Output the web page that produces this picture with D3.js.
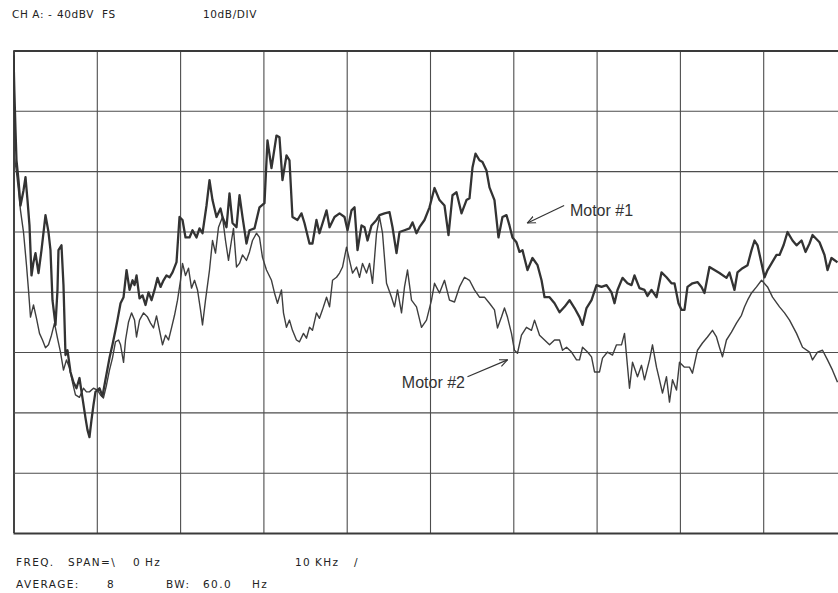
<!DOCTYPE html>
<html>
<head>
<meta charset="utf-8">
<script src="https://cdn.jsdelivr.net/npm/d3@7.9.0/dist/d3.min.js"></script>
<style>
  html, body { margin: 0; padding: 0; background: #fff; }
  svg { display: block; }
  .grid line { stroke: #4d4d4d; stroke-width: 1.1; }
  .grid line.edge { stroke: #3a3a3a; stroke-width: 1.9; }
  .plotter { font-family: "DejaVu Sans", sans-serif; font-size: 10.5px; letter-spacing: 1.4px; fill: #222; }
  .plotter.head { letter-spacing: 0.6px; }
  .note { font-family: "Liberation Sans", Arial, sans-serif; font-size: 16px; fill: #333; }
</style>
</head>
<body>
<div id="chart"></div>
<script>
// spectrum traces, [frequency kHz, level dBV]
const motor1 = [
  [0, -40.8], [0.1, -46.6], [0.24, -53.2], [0.36, -58.2], [0.6, -61.5], [0.84, -65.7], [1.2, -63.2], [1.44, -61.0],
  [1.68, -64.8], [1.92, -69.0], [2.16, -77.3], [2.4, -75.1], [2.64, -73.6], [3.0, -76.9], [3.36, -73.1], [3.84, -67.3],
  [4.2, -70.1], [4.44, -73.1], [4.68, -81.4], [5.04, -85.5], [5.28, -79.7], [5.4, -73.1], [5.76, -72.3], [6.0, -78.9],
  [6.24, -90.5], [6.48, -89.7], [6.84, -93.3], [7.2, -95.0], [7.56, -96.0], [7.92, -94.3], [8.28, -97.6], [8.64, -100.9],
  [8.88, -102.9], [9.12, -104.1], [9.36, -101.3], [9.6, -98.8], [9.84, -96.6], [10.32, -96.0], [10.68, -97.3], [11.04, -94.6],
  [11.52, -91.0], [11.88, -88.8], [12.24, -86.4], [12.48, -84.7], [12.85, -81.9], [13.21, -80.9], [13.57, -76.4], [13.93, -79.7],
  [14.29, -78.1], [14.53, -78.9], [14.77, -77.3], [15.13, -81.1], [15.49, -80.6], [15.85, -82.2], [16.21, -80.1], [16.57, -81.4],
  [16.93, -79.7], [17.29, -77.7], [17.65, -79.2], [18.01, -78.1], [18.37, -77.3], [18.73, -77.6], [19.09, -76.8], [19.57, -75.1],
  [19.93, -67.6], [20.29, -68.1], [20.65, -71.0], [21.13, -71.0], [21.49, -69.8], [21.97, -71.0], [22.33, -69.5], [22.69, -70.3],
  [23.17, -65.7], [23.53, -61.5], [23.89, -64.8], [24.37, -67.6], [24.85, -66.2], [25.09, -67.6], [25.57, -69.3], [25.93, -63.7],
  [26.29, -68.6], [26.77, -69.3], [27.13, -64.0], [27.49, -67.6], [27.97, -72.0], [28.33, -69.8], [28.93, -69.5], [29.53, -66.0],
  [30.13, -65.3], [30.49, -54.9], [30.97, -59.5], [31.57, -54.1], [31.93, -54.4], [32.29, -61.5], [32.77, -57.4], [33.13, -58.2],
  [33.49, -67.6], [34.09, -68.1], [34.57, -67.0], [34.93, -68.6], [35.53, -72.0], [35.89, -72.0], [36.37, -68.1], [36.73, -70.3],
  [37.58, -66.5], [37.94, -69.3], [38.54, -67.6], [39.14, -67.0], [39.74, -67.6], [40.1, -69.8], [40.58, -66.5], [40.94, -66.0],
  [41.3, -73.1], [41.78, -69.0], [42.14, -69.3], [42.5, -71.5], [42.98, -69.0], [43.58, -68.1], [43.94, -67.3], [44.54, -67.0],
  [45.14, -66.8], [45.5, -69.3], [45.98, -73.6], [46.34, -70.1], [46.94, -69.8], [47.54, -69.5], [47.9, -68.5], [48.38, -70.3],
  [48.74, -69.3], [49.34, -68.1], [49.94, -66.0], [50.54, -62.8], [51.14, -64.8], [51.74, -65.7], [52.22, -70.6], [52.7, -64.0],
  [53.18, -63.5], [53.78, -67.0], [54.38, -64.8], [54.74, -64.5], [55.1, -59.4], [55.46, -57.1], [55.94, -58.2], [56.3, -58.5],
  [56.78, -59.9], [57.14, -62.7], [57.74, -64.8], [58.22, -71.0], [58.7, -67.6], [59.18, -67.3], [59.54, -69.0], [59.9, -71.0],
  [60.38, -71.8], [60.74, -73.4], [61.1, -73.1], [61.7, -76.4], [62.3, -74.4], [62.91, -75.6], [63.39, -78.1], [63.75, -80.9],
  [64.35, -80.9], [64.95, -81.9], [65.55, -83.4], [66.15, -82.5], [66.75, -81.4], [67.35, -82.7], [67.95, -84.2], [68.31, -85.5],
  [68.79, -82.7], [69.39, -81.4], [69.99, -78.9], [70.59, -79.2], [71.19, -78.9], [71.79, -80.1], [72.15, -81.9], [72.51, -79.7],
  [73.11, -77.7], [73.71, -78.6], [74.19, -78.9], [74.55, -77.3], [75.15, -79.4], [75.75, -79.7], [76.11, -80.7], [76.59, -79.7],
  [77.19, -80.9], [77.79, -76.8], [78.39, -77.6], [78.99, -78.6], [79.35, -78.6], [79.83, -81.9], [80.19, -83.0], [80.55, -83.0],
  [80.91, -79.2], [81.51, -78.6], [82.11, -78.4], [82.59, -79.2], [82.95, -80.2], [83.55, -75.9], [84.15, -76.4], [84.75, -76.9],
  [85.59, -77.7], [85.95, -76.8], [86.55, -79.7], [86.91, -76.8], [87.52, -76.1], [88.12, -75.6], [88.6, -73.1], [88.96, -71.5],
  [89.32, -72.3], [89.8, -75.3], [90.16, -77.6], [90.52, -76.4], [91.0, -75.3], [91.6, -73.9], [91.96, -73.9], [92.44, -72.3],
  [92.92, -70.1], [93.52, -71.5], [94.0, -72.3], [94.6, -71.5], [95.08, -73.4], [95.56, -72.0], [95.92, -70.6], [96.76, -71.8],
  [97.36, -73.9], [97.72, -76.4], [98.2, -74.4], [98.92, -75.1]
];

const motor2 = [
  [0, -43.3], [0.1, -51.6], [0.12, -57.7], [0.36, -60.2], [0.6, -63.2], [0.84, -66.5], [1.2, -70.1], [1.56, -75.6],
  [1.8, -79.7], [2.04, -84.2], [2.4, -82.2], [2.76, -84.4], [3.12, -86.9], [3.48, -88.0], [3.84, -89.3], [4.2, -88.8],
  [4.56, -87.2], [4.92, -85.2], [5.28, -87.7], [5.64, -90.0], [6.0, -93.0], [6.36, -91.3], [6.72, -92.6], [7.08, -95.0],
  [7.44, -97.1], [7.92, -97.5], [8.4, -96.0], [8.76, -96.6], [9.12, -96.6], [9.6, -96.0], [10.08, -96.3], [10.44, -97.1],
  [10.8, -97.6], [11.16, -95.5], [11.52, -93.0], [11.88, -91.0], [12.24, -88.3], [12.61, -88.0], [12.85, -88.8], [13.21, -91.7],
  [13.45, -88.0], [13.81, -85.0], [14.17, -83.5], [14.53, -84.7], [14.77, -87.5], [15.13, -84.7], [15.61, -83.5], [16.09, -84.2],
  [16.45, -85.2], [16.81, -86.0], [17.17, -84.0], [17.53, -86.4], [17.89, -88.8], [18.25, -87.2], [18.61, -88.0], [18.97, -86.0],
  [19.33, -83.9], [19.69, -81.4], [20.05, -78.1], [20.29, -75.3], [20.65, -77.3], [21.01, -76.1], [21.37, -79.4], [21.73, -78.1],
  [22.09, -79.7], [22.45, -83.0], [22.69, -85.5], [23.05, -81.4], [23.53, -76.4], [23.89, -71.5], [24.25, -73.6], [24.61, -69.3],
  [25.09, -67.6], [25.45, -71.5], [25.81, -74.8], [26.17, -71.5], [26.41, -69.5], [26.77, -75.9], [27.13, -75.3], [27.49, -73.9],
  [27.97, -74.8], [28.33, -73.4], [28.69, -71.5], [29.17, -70.3], [29.53, -71.0], [29.89, -74.3], [30.37, -76.4], [30.97, -78.1],
  [31.33, -80.2], [31.69, -81.9], [32.17, -79.7], [32.41, -83.5], [32.77, -85.9], [33.13, -84.7], [33.49, -86.4], [33.97, -88.0],
  [34.33, -88.3], [34.81, -86.9], [35.17, -87.7], [35.53, -85.9], [35.89, -86.4], [36.37, -83.5], [36.73, -84.4], [37.09, -83.0],
  [37.58, -80.9], [37.94, -82.5], [38.3, -78.1], [38.78, -77.6], [39.14, -76.9], [39.5, -75.9], [39.98, -72.6], [40.34, -74.8],
  [40.7, -76.9], [41.18, -75.9], [41.54, -77.6], [41.9, -75.3], [42.38, -76.9], [42.74, -75.3], [43.1, -78.6], [43.58, -70.3],
  [43.94, -67.6], [44.3, -70.3], [44.78, -78.6], [45.38, -80.9], [45.74, -82.5], [46.1, -79.7], [46.58, -83.5], [46.94, -79.2],
  [47.3, -76.4], [47.78, -81.4], [48.38, -82.5], [48.98, -85.9], [49.58, -84.7], [50.18, -81.4], [50.54, -78.6], [51.14, -80.2],
  [51.74, -78.1], [52.34, -81.4], [52.94, -81.7], [53.54, -79.2], [54.14, -77.6], [54.74, -78.1], [55.34, -79.7], [55.94, -80.9],
  [56.54, -80.9], [57.14, -81.9], [57.74, -83.0], [58.1, -86.0], [58.58, -84.2], [58.94, -82.7], [59.3, -84.2], [59.78, -86.9],
  [60.14, -89.7], [60.5, -90.2], [60.98, -87.2], [61.58, -85.9], [62.18, -86.4], [62.55, -84.7], [63.15, -87.2], [63.75, -88.0],
  [64.35, -88.8], [64.95, -88.0], [65.55, -88.0], [65.91, -89.7], [66.39, -89.2], [66.99, -90.0], [67.59, -91.3], [67.95, -91.3],
  [68.31, -89.2], [68.91, -90.0], [69.39, -90.8], [69.75, -93.3], [70.35, -93.3], [70.71, -91.0], [71.31, -90.0], [71.91, -90.5],
  [72.39, -88.8], [72.99, -88.8], [73.35, -86.9], [73.95, -96.0], [74.31, -91.7], [74.91, -94.1], [75.39, -92.2], [75.75, -94.6],
  [76.35, -91.3], [76.71, -88.8], [77.19, -92.5], [77.55, -94.6], [77.91, -96.8], [78.39, -94.1], [78.75, -98.3], [79.11, -94.6],
  [79.59, -96.3], [79.95, -91.7], [80.55, -92.5], [81.15, -92.5], [81.51, -93.5], [82.11, -89.7], [82.71, -88.5], [83.31, -87.5],
  [83.91, -86.4], [84.39, -87.5], [84.75, -89.2], [85.11, -90.8], [85.59, -88.0], [86.19, -86.7], [86.79, -85.2], [87.39, -83.9],
  [87.76, -82.5], [88.12, -81.4], [88.6, -80.2], [89.2, -79.2], [89.8, -78.1], [90.52, -79.2], [91.12, -80.9], [91.96, -82.5],
  [92.56, -83.5], [93.16, -84.7], [94.0, -86.9], [94.72, -89.2], [95.56, -90.0], [95.92, -91.3], [96.52, -90.0], [97.12, -89.7],
  [97.72, -91.3], [98.32, -93.0], [98.92, -95.0]
];

const freqTicks = d3.range(0, 101, 10);     // 10 kHz / div
const levelTicks = d3.range(-120, -39, 10);  // 10 dB / div, -40 dBV full scale

const headerTokens = ['CH A:', '-', '40dBV', 'FS', '10dB/DIV'];
const footerRow1 = ['FREQ.', 'SPAN=\\', '0', 'Hz', '10', 'KHz', '/'];
const footerRow2 = ['AVERAGE:', '8', 'BW:', '60.0', 'Hz'];

// annotation text plus arrow tip / tail in data units
const notes = [
  { text: 'Motor #1', tip: [61.7, -68.6], tail: [66.1, -65.7], at: [66.8, -67.4], anchor: 'start' },
  { text: 'Motor #2', tip: [59.3, -91.3], tail: [54.5, -94.1], at: [54.2, -95.9], anchor: 'end' }
];

const width = 838;
const height = 593;
const plot = { left: 13.5, top: 50.5, right: 846.5, bottom: 533 };

const x = d3.scaleLinear().domain([0, 100]).range([plot.left, plot.right]);
const y = d3.scaleLinear().domain([-120, -40]).range([plot.bottom, plot.top]);

const svg = d3.select('#chart').append('svg').attr('width', width).attr('height', height);

function drawGrid() {
  svg.append('g').attr('class', 'grid').attr('transform', `translate(0,${plot.bottom})`)
    .call(d3.axisBottom(x).tickValues(freqTicks).tickSize(-(plot.bottom - plot.top)).tickFormat(''))
    .call(g => g.select('.domain').remove())
    .selectAll('.tick line').classed('edge', d => d === 0 || d === 100);

  svg.append('g').attr('class', 'grid').attr('transform', `translate(${plot.left},0)`)
    .call(d3.axisLeft(y).tickValues(levelTicks).tickSize(-(plot.right - plot.left)).tickFormat(''))
    .call(g => g.select('.domain').remove())
    .selectAll('.tick line').classed('edge', d => d === -40 || d === -120);
}

function drawTraces() {
  svg.append('clipPath').attr('id', 'clip').append('rect')
    .attr('x', plot.left).attr('y', plot.top - 2)
    .attr('width', plot.right - plot.left).attr('height', plot.bottom - plot.top + 2);

  const line = d3.line().x(d => x(d[0])).y(d => y(d[1]));
  const g = svg.append('g').attr('clip-path', 'url(#clip)');

  g.append('path').datum(motor2).attr('d', line)
    .attr('fill', 'none').attr('stroke', '#3e3e3e').attr('stroke-width', 1.4)
    .attr('stroke-linejoin', 'round');
  g.append('path').datum(motor1).attr('d', line)
    .attr('fill', 'none').attr('stroke', '#333').attr('stroke-width', 2.3)
    .attr('stroke-linejoin', 'round');
}

function drawNotes() {
  svg.append('defs').append('marker')
    .attr('id', 'head').attr('viewBox', '0 0 10 10').attr('refX', 9).attr('refY', 5)
    .attr('markerWidth', 9).attr('markerHeight', 9).attr('orient', 'auto').attr('markerUnits', 'userSpaceOnUse')
    .append('path').attr('d', 'M0,1 L9,5 L0,9').attr('fill', 'none').attr('stroke', '#333').attr('stroke-width', 1.3);

  notes.forEach(n => {
    svg.append('line')
      .attr('x1', x(n.tail[0])).attr('y1', y(n.tail[1]))
      .attr('x2', x(n.tip[0])).attr('y2', y(n.tip[1]))
      .attr('stroke', '#333').attr('stroke-width', 1.2).attr('marker-end', 'url(#head)');
    svg.append('text').attr('class', 'note')
      .attr('x', x(n.at[0])).attr('y', y(n.at[1]))
      .attr('text-anchor', n.anchor).text(n.text);
  });
}

function drawPlotterText() {
  // token starts
  const rows = [
    { tokens: headerTokens, xs: [12, 48, 57, 102, 203], y: 18, cls: 'plotter head' },
    { tokens: footerRow1, xs: [16, 68, 133, 145, 295, 315, 354], y: 566, cls: 'plotter' },
    { tokens: footerRow2, xs: [16, 107, 166, 203, 252], y: 588, cls: 'plotter' }
  ];
  rows.forEach(r => {
    r.tokens.forEach((t, i) => {
      svg.append('text').attr('class', r.cls).attr('x', r.xs[i]).attr('y', r.y).text(t);
    });
  });
}

drawGrid();
drawTraces();
drawNotes();
drawPlotterText();
</script>
</body>
</html>
